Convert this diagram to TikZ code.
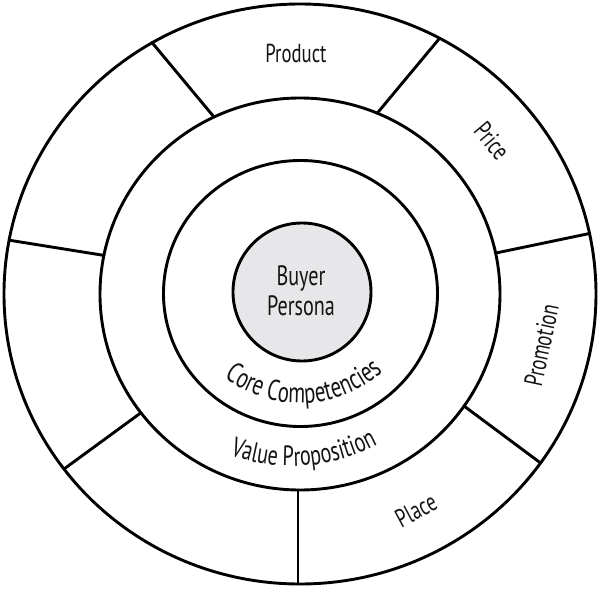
\documentclass[tikz,border=0pt]{standalone}
\usepackage{fontspec}
\newfontfamily\handfont[FakeStretch=0.72]{PT Sans}
\usetikzlibrary{decorations.text}
\definecolor{personafill}{RGB}{231,231,233}
\definecolor{inkcol}{RGB}{20,20,20}
\begin{document}
\begin{tikzpicture}[x=1pt,y=1pt,
  ring/.style={line width=2.9pt, draw=black},
  divider/.style={line width=2.9pt, line cap=round, draw=black},
  lbl/.style={font=\handfont\fontsize{26}{30}\selectfont, inner sep=0pt, text=inkcol, align=center},
  personacircle/.style={circle, draw=black, line width=2.9pt, fill=personafill, minimum size=138pt, inner sep=0pt}
]
\useasboundingbox (-300,-298) rectangle (300,294);
\fill[white] (-300,-298) rectangle (300,294);

% rings
\draw[ring] (0,0) ellipse [x radius=296, y radius=290];
\draw[ring] (0,0) ellipse [x radius=200, y radius=196];
\draw[ring] (0.5,0.5) ellipse [x radius=137, y radius=133];
\node[personacircle] (persona) at (2,2) {};
\node[lbl, font=\handfont\fontsize{28}{30}\selectfont] (personatext) at (1,3) {Buyer\\Persona};

% divider end points (on the outer and middle rings)
\coordinate (d1o) at (-148,251.5);  \coordinate (d1i) at (-86,177);
\coordinate (d2o) at (139.6,255.7); \coordinate (d2i) at (77.2,180.8);
\coordinate (d3o) at (289.5,60.5);  \coordinate (d3i) at (196,41);
\coordinate (d4o) at (240.6,-169);  \coordinate (d4i) at (164,-112);
\coordinate (d5o) at (-2,-290);     \coordinate (d5i) at (-2,-196);
\coordinate (d6o) at (-236,-175);   \coordinate (d6i) at (-159,-118.7);
\coordinate (d7o) at (-290.8,53.8); \coordinate (d7i) at (-196,38.6);
\foreach \k in {1,...,7} { \draw[divider] (d\k i) -- (d\k o); }

% segment labels
\node[lbl, anchor=base] (product) at (-4,231) {Product};
\node[lbl, rotate=-50] (price) at (192,153) {Price};
\node[lbl, rotate=78] (promotion) at (241.5,-51) {Promotion};
\node[lbl, rotate=28] (place) at (116,-216) {Place};

% curved labels
\path[decorate, decoration={text along path, text align=center,
  text={|\handfont\fontsize{29}{29}\selectfont\color{inkcol}|Core Competencies}}]
  (0,18) ++(212:127) arc[start angle=212, end angle=332, radius=127];
\path[decorate, decoration={text along path, text align=center,
  text={|\handfont\fontsize{28}{28}\selectfont\color{inkcol}|Value Proposition}}]
  (-8,12) ++(230:184) arc[start angle=230, end angle=318, radius=184];
\end{tikzpicture}
\end{document}
